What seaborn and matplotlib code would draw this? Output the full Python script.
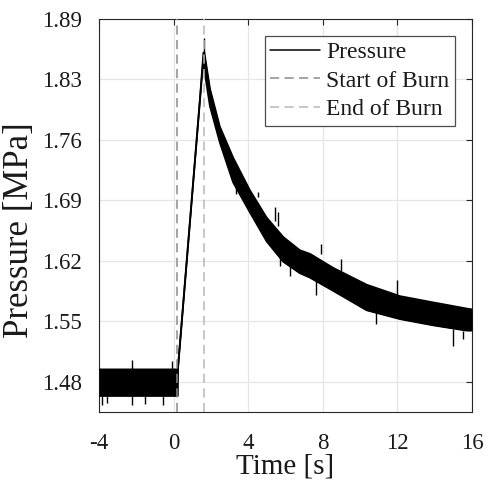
import numpy as np
import pandas as pd
import matplotlib
matplotlib.use("Agg")
import matplotlib.pyplot as plt
import seaborn as sns
from matplotlib.lines import Line2D

# ---- data (band envelope of the noisy pressure trace) ----
time_s = [-4.00, 0.22, 0.24, 1.41, 1.60, 1.65, 1.95, 2.48, 3.19, 4.09, 4.99,
          5.88, 6.77, 7.31, 8.56, 10.35, 12.14, 13.90, 15.70, 16.00]
p_low = [1.467, 1.467, 1.499, 1.801, 1.850, 1.836, 1.795, 1.754, 1.709, 1.675, 1.642,
         1.619, 1.606, 1.601, 1.586, 1.564, 1.554, 1.547, 1.541, 1.541]
p_high = [1.497, 1.497, 1.501, 1.803, 1.856, 1.856, 1.815, 1.772, 1.737, 1.700, 1.669,
          1.647, 1.632, 1.628, 1.612, 1.593, 1.580, 1.573, 1.566, 1.565]

# isolated noise spikes: time, band edge, tip value
spike_t = [-3.82, -3.55, -2.22, -2.22, -1.54, -0.56, -0.06, 1.62, 3.35, 4.54,
           5.43, 5.61, 5.70, 6.24, 7.63, 7.88, 9.00, 10.85, 11.96, 15.00, 15.50]
spike_from = [1.467, 1.467, 1.497, 1.467, 1.467, 1.467, 1.497, 1.856, 1.705, 1.692,
              1.665, 1.660, 1.625, 1.615, 1.600, 1.628, 1.608, 1.568, 1.580, 1.543, 1.541]
spike_to = [1.457, 1.459, 1.508, 1.457, 1.458, 1.457, 1.506, 1.872, 1.696, 1.698,
            1.681, 1.675, 1.614, 1.603, 1.581, 1.639, 1.622, 1.548, 1.598, 1.523, 1.532]

burn_start = 0.20
burn_end = 1.62

x_ticks = [-4, 0, 4, 8, 12, 16]
y_tick_values = [1.483, 1.5515, 1.620, 1.6885, 1.757, 1.8255, 1.894]
y_tick_labels = ["1.48", "1.55", "1.62", "1.69", "1.76", "1.83", "1.89"]

# ---- style ----
sns.set_theme(style="white")
plt.rcParams["font.family"] = ["Liberation Serif", "DejaVu Serif"]

fig = plt.figure(figsize=(4.88, 4.84), dpi=100)
ax = fig.add_axes([99 / 488, 72 / 484, 373 / 488, 393 / 484])

df = pd.DataFrame({"t": time_s, "lo": p_low, "hi": p_high})

ax.fill_between(df["t"], df["lo"], df["hi"], color="black", lw=0, zorder=3)
sns.lineplot(data=df, x="t", y="lo", color="black", lw=1.3, ax=ax, zorder=3)
sns.lineplot(data=df, x="t", y="hi", color="black", lw=1.3, ax=ax, zorder=3)
ax.vlines(spike_t, spike_from, spike_to, color="black", lw=1.0, zorder=3)

ax.axvline(burn_start, color="0.55", lw=1.1, dashes=(6, 3.5), zorder=4)
ax.axvline(burn_end, color="0.72", lw=1.1, dashes=(6, 3.5), zorder=4)

ax.set_xlim(-4, 16)
ax.set_ylim(1.44875, 1.894)
ax.set_xticks(x_ticks)
ax.set_xticklabels([str(v) for v in x_ticks])
ax.set_yticks(y_tick_values)
ax.set_yticklabels(y_tick_labels)

ax.grid(True, color="0.9", lw=0.9)
ax.set_axisbelow(True)

for s in ax.spines.values():
    s.set_color("0.15")
    s.set_linewidth(0.8)
    s.set_visible(True)

ax.tick_params(axis="both", direction="in", top=True, right=True, length=4,
               width=0.8, color="0.15", labelsize=16.5, labelcolor="0.1")
ax.tick_params(axis="x", pad=15)
ax.tick_params(axis="y", pad=12.5)

ax.set_xlabel("Time [s]", fontsize=21, color="0.1")
ax.xaxis.set_label_coords(0.5, -0.105)
ax.set_ylabel("Pressure [MPa]", fontsize=25, color="0.1")
ax.yaxis.set_label_coords(-0.168, 0.463)

handles = [
    Line2D([], [], color="black", lw=1.1),
    Line2D([], [], color="0.55", lw=1.1, dashes=(6, 3.5)),
    Line2D([], [], color="0.72", lw=1.1, dashes=(6, 3.5)),
]
labels = ["Pressure", "Start of Burn", "End of Burn"]
leg = ax.legend(handles, labels, loc="upper right",
                bbox_to_anchor=((455 - 99) / 373, (412 - 35.7) / 393),
                borderaxespad=0, fontsize=17, frameon=True, fancybox=False,
                handlelength=2.1, handletextpad=0.25, labelspacing=0.3,
                borderpad=0.25, framealpha=1)
leg.get_frame().set_edgecolor("0.3")
leg.get_frame().set_linewidth(0.9)
for txt in leg.get_texts():
    txt.set_color("0.1")

fig.savefig("out.png", dpi=100)
